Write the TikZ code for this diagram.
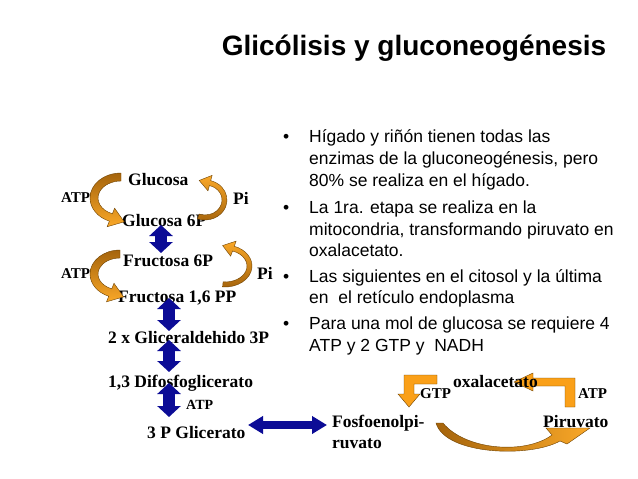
\documentclass[tikz,border=0pt]{standalone}
\usepackage{fontspec}
\setmainfont{Liberation Serif}
\newfontfamily\arialf{Liberation Sans}
\usetikzlibrary{arrows.meta}
\definecolor{navy}{RGB}{12,12,150}
\definecolor{obrown}{RGB}{165,100,12}
\definecolor{oorange}{RGB}{250,168,40}
\definecolor{oedge}{RGB}{110,65,0}
\definecolor{lorange}{RGB}{250,160,25}

\newcommand\carrow[9][]{%
 \pgfmathsetmacro\caS{ifthenelse(#8>#7,1,-1)}%
 \pgfmathsetmacro\caTx{-\caS*#4*sin(#8)}%
 \pgfmathsetmacro\caTy{\caS*#5*cos(#8)}%
 \pgfmathsetmacro\caTn{veclen(\caTx,\caTy)}%
 \pgfmathsetmacro\caUx{\caTx/\caTn}%
 \pgfmathsetmacro\caUy{\caTy/\caTn}%
 \pgfmathsetmacro\caOx{#2+#4*cos(#8)}%
 \pgfmathsetmacro\caOy{#3+#5*sin(#8)}%
 \pgfmathsetmacro\caIx{#2+(#4-#6)*cos(#8)}%
 \pgfmathsetmacro\caIy{#3+(#5-#6)*sin(#8)}%
 \pgfmathsetmacro\caMx{(\caOx+\caIx)/2}%
 \pgfmathsetmacro\caMy{(\caOy+\caIy)/2}%
 \pgfmathsetmacro\caNx{\caOx-\caIx}%
 \pgfmathsetmacro\caNy{\caOy-\caIy}%
 \pgfmathsetmacro\caNn{veclen(\caNx,\caNy)}%
 \pgfmathsetmacro\caRx{#4-#6}%
 \pgfmathsetmacro\caRy{#5-#6}%
 \path[#1] ({#2+#4*cos(#7)},{#3+#5*sin(#7)})
   arc[start angle=#7,end angle=#8,x radius=#4,y radius=#5]
   -- ({\caMx+#9*\caNx/\caNn},{\caMy+#9*\caNy/\caNn})
   -- ({\caMx+1.4*#9*\caUx},{\caMy+1.4*#9*\caUy})
   -- ({\caMx-#9*\caNx/\caNn},{\caMy-#9*\caNy/\caNn})
   -- (\caIx,\caIy)
   arc[start angle=#8,end angle=#7,x radius=\caRx,y radius=\caRy] -- cycle;
}

\tikzset{
 lab/.style={font=\fontsize{17.5}{20}\selectfont\bfseries, inner sep=0pt, anchor=base west},
 smlab/.style={font=\fontsize{15}{18}\selectfont\bfseries, inner sep=0pt, anchor=base west},
 btxt/.style={font=\arialf\fontsize{17.5}{21}\selectfont, inner sep=0pt, anchor=base west},
 atpfill/.style={top color=obrown, bottom color=oorange, draw=oedge, line width=0.4pt},
 pifill/.style={top color=oorange, bottom color=obrown, draw=oedge, line width=0.4pt},
 lfill/.style={fill=lorange, draw=oedge, line width=0.4pt},
 vblue/.style={draw=navy, line width=12pt, {Triangle[width=23pt,length=11pt]}-{Triangle[width=23pt,length=11pt]}},
 hblue/.style={draw=navy, line width=8pt, {Triangle[width=17pt,length=15pt]}-{Triangle[width=17pt,length=15pt]}},
}

\begin{document}
\begin{tikzpicture}[x=1pt,y=-1pt]
\useasboundingbox[fill=white] (0,0) rectangle (638,479);

% title
\node[font=\arialf\bfseries\fontsize{28}{32}\selectfont, inner sep=0pt, anchor=base] (title) at (414,56) {Glicólisis y gluconeogénesis};

% bullets
\node[btxt] (d1) at (283,142) {•};
\node[btxt] (b1a) at (309,142) {Hígado y riñón tienen todas las};
\node[btxt] (b1b) at (309,164) {enzimas de la gluconeogénesis, pero};
\node[btxt] (b1c) at (309,186) {80\% se realiza en el hígado.};
\node[btxt] (d2) at (283,213) {•};
\node[btxt] (b2a) at (309,213) {La 1ra. etapa se realiza en la};
\node[btxt] (b2b) at (309,235) {mitocondria, transformando piruvato en};
\node[btxt] (b2c) at (309,256) {oxalacetato.};
\node[btxt] (d3) at (283,282) {•};
\node[btxt] (b3a) at (309,282) {Las siguientes en el citosol y la última};
\node[btxt] (b3b) at (309,303) {en\ \ el retículo endoplasma};
\node[btxt] (d4) at (283,329) {•};
\node[btxt] (b4a) at (309,329) {Para una mol de glucosa se requiere 4};
\node[btxt] (b4b) at (309,351) {ATP y 2 GTP y\ \ NADH};

% left pathway labels
\node[lab] (glc) at (128,185) {Glucosa};
\node[lab] (g6p) at (122,226) {Glucosa 6P};
\node[lab] (f6p) at (123,266) {Fructosa 6P};
\node[lab] (f16) at (118,302) {Fructosa 1,6 PP};
\node[lab] (gap) at (108,343) {2 x Gliceraldehido 3P};
\node[lab] (bpg) at (108,387) {1,3 Difosfoglicerato};
\node[smlab, font=\fontsize{14}{16}\selectfont\bfseries] (atp3) at (186,409) {ATP};
\node[lab] (pg3) at (147,438) {3 P Glicerato};
\node[smlab] (atp1) at (61,202) {ATP};
\node[lab] (pi1) at (233,204) {Pi};
\node[smlab] (atp2) at (61,278) {ATP};
\node[lab] (pi2) at (257,279) {Pi};

% curved orange arrows (left)
\carrow[atpfill]{121}{198}{31}{25}{8}{270}{112}{10}
\carrow[pifill]{205}{200}{22}{20}{5}{110}{-75}{8}
\carrow[atpfill]{120}{274}{30}{24}{8}{270}{112}{10}
\carrow[pifill]{225}{266}{27}{21}{5}{95}{-70}{8}

% blue arrows
\coordinate (v1a) at (161,225); \coordinate (v1b) at (161,253);
\coordinate (v2a) at (169,298); \coordinate (v2b) at (169,331);
\coordinate (v3a) at (169,340); \coordinate (v3b) at (169,372);
\coordinate (v4a) at (169,383); \coordinate (v4b) at (169,417);
\coordinate (h1a) at (248,425); \coordinate (h1b) at (327,425);
\draw[vblue] (v1a) -- (v1b);
\draw[vblue] (v2a) -- (v2b);
\draw[vblue] (v3a) -- (v3b);
\draw[vblue] (v4a) -- (v4b);
\draw[hblue] (h1a) -- (h1b);

% bottom right orange arrows
\path[lfill] (437,375) -- (437,384) -- (414,384) -- (414,394) -- (420,394) -- (409,407)
  -- (398,394) -- (404,394) -- (404,375) -- cycle;
\path[lfill] (575,378) -- (575,407) -- (565,407) -- (565,386) -- (533,386) -- (533,391)
  -- (514,382) -- (533,373) -- (533,378) -- cycle;
\path[left color=obrown, right color=oorange, draw=oedge, line width=0.4pt]
  (436,423) .. controls (445,455) and (530,458) .. (560,441)
  -- (567,444) -- (590,428) -- (546,428) -- (552,435)
  .. controls (525,455) and (465,450) .. (443,423) -- cycle;

% bottom right labels
\node[lab] (pep1) at (332,427) {Fosfoenolpi-};
\node[lab] (pep2) at (332,448) {ruvato};
\node[lab] (oaa) at (453,387) {oxalacetato};
\node[smlab] (gtp) at (420,398) {GTP};
\node[smlab] (atp4) at (578,398) {ATP};
\node[lab] (pyr) at (543,427) {Piruvato};
\end{tikzpicture}
\end{document}
